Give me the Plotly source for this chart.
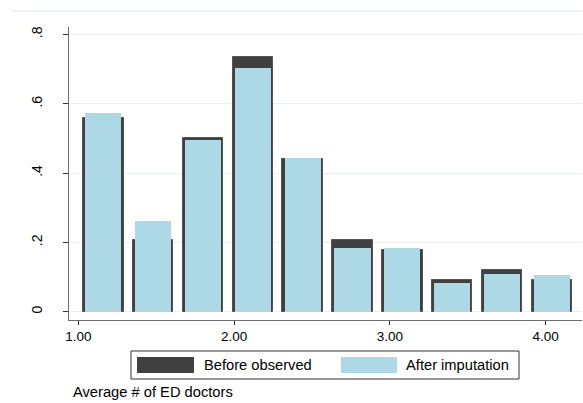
import plotly.graph_objects as go

# Bin centers (Average # of ED doctors)
bin_centers = [1.16, 1.48, 1.80, 2.12, 2.44, 2.76, 3.08, 3.40, 3.72, 4.04]
before_observed = [0.560, 0.207, 0.500, 0.736, 0.441, 0.207, 0.178, 0.091, 0.119, 0.091]
after_imputation = [0.573, 0.262, 0.495, 0.702, 0.443, 0.184, 0.183, 0.082, 0.108, 0.106]

x_ticks = [1, 2, 3, 4]
x_tick_labels = ["1.00", "2.00", "3.00", "4.00"]
y_ticks = [0, 0.2, 0.4, 0.6, 0.8]
y_tick_labels = ["0", ".2", ".4", ".6", ".8"]

DARK = "#404040"
LIGHT = "#add8e6"
GRID = "#e9f0f1"
FONT = "Liberation Sans, Arial, sans-serif"

W, H = 583, 403
ML, MR, MT, MB = 69, 1, 27, 83
PW, PH = W - ML - MR, H - MT - MB


def px(x):
    return (x - ML) / PW


def py(y):
    return (H - MB - y) / PH


fig = go.Figure()
fig.add_trace(go.Bar(
    x=bin_centers, y=before_observed, width=0.26, name="Before observed",
    marker=dict(color=DARK, line=dict(color="#555555", width=1)),
    showlegend=False,
))
fig.add_trace(go.Bar(
    x=bin_centers, y=after_imputation, width=0.232, name="After imputation",
    marker=dict(color=LIGHT, line=dict(width=0)),
    showlegend=False,
))

shapes = []
# faint top border line of the graph region
shapes.append(dict(type="line", xref="paper", yref="paper",
                   x0=px(11), x1=1.0, y0=py(11), y1=py(11),
                   line=dict(color=GRID, width=1.5)))
# legend box
shapes.append(dict(type="rect", xref="paper", yref="paper",
                   x0=px(131), x1=px(519), y0=py(351), y1=py(379),
                   line=dict(color="#333333", width=1), fillcolor="white"))
shapes.append(dict(type="rect", xref="paper", yref="paper",
                   x0=px(137), x1=px(194), y0=py(357), y1=py(373),
                   line=dict(width=0), fillcolor=DARK))
shapes.append(dict(type="rect", xref="paper", yref="paper",
                   x0=px(341), x1=px(397), y0=py(357), y1=py(373),
                   line=dict(width=0), fillcolor=LIGHT))

annotations = [
    dict(text="Before observed", xref="paper", yref="paper", x=px(202), y=py(365),
         xanchor="left", yanchor="middle", showarrow=False,
         font=dict(family=FONT, size=14.7, color="#000000")),
    dict(text="After imputation", xref="paper", yref="paper", x=px(404), y=py(365),
         xanchor="left", yanchor="middle", showarrow=False,
         font=dict(family=FONT, size=14.7, color="#000000")),
    dict(text="Average # of ED doctors", xref="paper", yref="paper", x=px(71), y=py(392),
         xanchor="left", yanchor="middle", showarrow=False,
         font=dict(family=FONT, size=14.7, color="#000000")),
]

fig.update_layout(
    width=W, height=H,
    margin=dict(l=ML, r=MR, t=MT, b=MB, pad=0),
    paper_bgcolor="white", plot_bgcolor="white",
    barmode="overlay", bargap=0,
    showlegend=False,
    shapes=shapes, annotations=annotations,
    font=dict(family=FONT, color="#000000"),
    xaxis=dict(
        range=[0.940, 4.233], tickmode="array", tickvals=x_ticks, ticktext=x_tick_labels,
        showgrid=False, zeroline=False, showline=True, linecolor="#6e6e6e", linewidth=1,
        ticks="outside", ticklen=4, tickcolor="#333333", tickwidth=1,
        tickfont=dict(family=FONT, size=13.5), fixedrange=True,
    ),
    yaxis=dict(
        range=[-0.0239, 0.8216], tickmode="array", tickvals=y_ticks, ticktext=y_tick_labels,
        showgrid=True, gridcolor=GRID, gridwidth=1, zeroline=False,
        showline=True, linecolor="#6e6e6e", linewidth=1,
        ticks="outside", ticklen=5, tickcolor="#333333", tickwidth=1,
        tickangle=-90, tickfont=dict(family=FONT, size=14), ticklabelstandoff=15,
        fixedrange=True,
    ),
)

fig.write_html("out.html")
